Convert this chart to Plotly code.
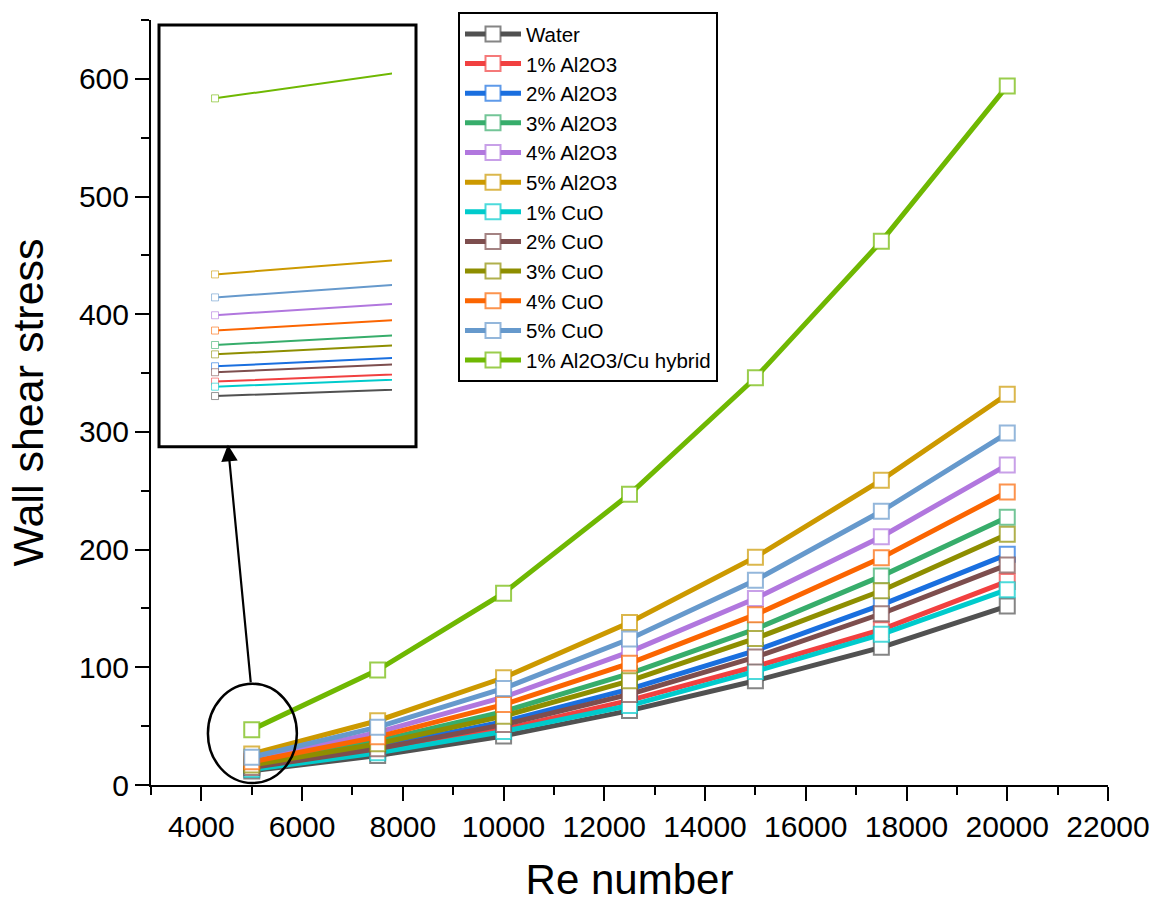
import plotly.graph_objects as go

# ---------------- data ----------------
re_number = [5000, 7500, 10000, 12500, 15000, 17500, 20000]

series_names = ["Water", "1% Al2O3", "2% Al2O3", "3% Al2O3", "4% Al2O3", "5% Al2O3",
                "1% CuO", "2% CuO", "3% CuO", "4% CuO", "5% CuO", "1% Al2O3/Cu hybrid"]

water      = [12.0, 25.0, 41.7, 63.2, 88.6, 117.0, 152]
al2o3_1    = [13.7, 28.4, 47.4, 71.9, 100.7, 132.0, 173]
al2o3_2    = [15.5, 32.2, 53.8, 81.5, 114.2, 153.0, 196]
al2o3_3    = [18.0, 37.4, 62.4, 94.6, 132.5, 177.5, 227.5]
al2o3_4    = [21.5, 44.7, 74.6, 113.1, 158.5, 211.0, 272]
al2o3_5    = [26.3, 54.6, 91.1, 138.1, 193.6, 259.0, 332]
cuo_1      = [13.1, 27.3, 45.5, 67.5, 96.5, 128.0, 166]
cuo_2      = [14.8, 30.8, 51.3, 77.0, 108.7, 145.5, 187]
cuo_3      = [16.9, 35.1, 58.5, 88.5, 124.5, 165.0, 213]
cuo_4      = [19.7, 40.9, 68.3, 103.4, 144.7, 193.0, 249]
cuo_5      = [23.6, 49.1, 82.0, 124.0, 174.0, 232.6, 299]
hybrid     = [47.0, 97.7, 163.0, 247.0, 346.0, 462.0, 594]

colors = ["#515151", "#F14040", "#1A6FDF", "#37AD6B", "#B177DE", "#CC9900",
          "#00CBCC", "#7D4E4E", "#8E8E00", "#FB6501", "#6699CC", "#6FB802"]

all_series = [water, al2o3_1, al2o3_2, al2o3_3, al2o3_4, al2o3_5,
              cuo_1, cuo_2, cuo_3, cuo_4, cuo_5, hybrid]


def tint(hexcol, a):
    h = hexcol.lstrip("#")
    r, g, b = int(h[0:2], 16), int(h[2:4], 16), int(h[4:6], 16)
    return f"rgba({r},{g},{b},{a})"


fig = go.Figure()
FONT = "Liberation Sans, Arial, sans-serif"

# main traces
for name, ys, col in zip(series_names, all_series, colors):
    fig.add_trace(go.Scatter(
        x=re_number, y=ys, name=name, mode="lines+markers",
        line=dict(color=col, width=5),
        marker=dict(symbol="square", size=15, color="white",
                    line=dict(color=tint(col, 0.7), width=2)),
        xaxis="x", yaxis="y", cliponaxis=False,
    ))

# inset traces (zoom on the first segment)
for name, ys, col in zip(series_names, all_series, colors):
    fig.add_trace(go.Scatter(
        x=re_number, y=ys, name=name, mode="lines+markers", showlegend=False,
        line=dict(color=col, width=2),
        marker=dict(symbol="square", size=7, color="white",
                    line=dict(color=tint(col, 0.6), width=1)),
        xaxis="x2", yaxis="y2", cliponaxis=True,
    ))

W, H = 1159, 903
ml, mr, mt, mb = 151, 51, 14, 118
pw = W - ml - mr
ph = H - mt - mb


def px_to_paper_x(px):
    return (px - ml) / pw


def px_to_paper_y(py):
    return (H - mb - py) / ph


fig.update_layout(
    width=W, height=H,
    margin=dict(l=ml, r=mr, t=mt, b=mb),
    paper_bgcolor="white", plot_bgcolor="white",
    font=dict(family=FONT, color="black"),
    xaxis=dict(
        range=[3000, 22000], tick0=4000, dtick=2000, tickformat="d",
        showline=True, linecolor="black", linewidth=2, automargin=False,
        ticks="outside", ticklen=14, tickwidth=2, tickcolor="black",
        tickfont=dict(size=30, family=FONT),
        minor=dict(dtick=1000, ticks="outside", ticklen=8, tickwidth=2, tickcolor="black"),
        showgrid=False, zeroline=False,
        title=dict(text="Re number", font=dict(size=42, family=FONT), standoff=26),
    ),
    yaxis=dict(
        range=[0, 650], tick0=0, dtick=100, tickformat="d",
        showline=True, linecolor="black", linewidth=2, automargin=False,
        ticks="outside", ticklen=14, tickwidth=2, tickcolor="black",
        tickfont=dict(size=30, family=FONT),
        minor=dict(dtick=50, ticks="outside", ticklen=8, tickwidth=2, tickcolor="black"),
        showgrid=False, zeroline=False,
        title=dict(text="Wall shear stress", font=dict(size=43, family=FONT), standoff=22),
    ),
    xaxis2=dict(
        domain=[px_to_paper_x(159), px_to_paper_x(392)],
        range=[4954.4, 5144], anchor="y2",
        showline=False, showticklabels=False, ticks="", showgrid=False, zeroline=False,
    ),
    yaxis2=dict(
        domain=[px_to_paper_y(444), px_to_paper_y(19)],
        range=[6.05, 55.63], anchor="x2",
        showline=False, showticklabels=False, ticks="", showgrid=False, zeroline=False,
    ),
    legend=dict(
        x=px_to_paper_x(458), y=px_to_paper_y(6), xanchor="left", yanchor="top",
        bgcolor="white", bordercolor="black", borderwidth=2,
        font=dict(size=20.5, family=FONT), itemwidth=56, tracegroupgap=0,
    ),
    showlegend=True,
)

# inset frame
fig.add_shape(type="rect", xref="paper", yref="paper",
              x0=px_to_paper_x(159), x1=px_to_paper_x(416),
              y0=px_to_paper_y(444), y1=px_to_paper_y(19),
              line=dict(color="black", width=3), fillcolor="rgba(0,0,0,0)", layer="above")

# ellipse around the first points
fig.add_shape(type="circle", xref="x", yref="y",
              x0=4130, x1=5896, y0=1.7, y1=86,
              line=dict(color="black", width=2.5), layer="above")

# arrow from ellipse to inset
fig.add_annotation(x=4527, y=289, ax=4983, ay=86, xref="x", yref="y",
                   axref="x", ayref="y", text="", showarrow=True,
                   arrowhead=2, arrowsize=1.5, arrowwidth=2.2, arrowcolor="black")

fig.write_html("out.html")
